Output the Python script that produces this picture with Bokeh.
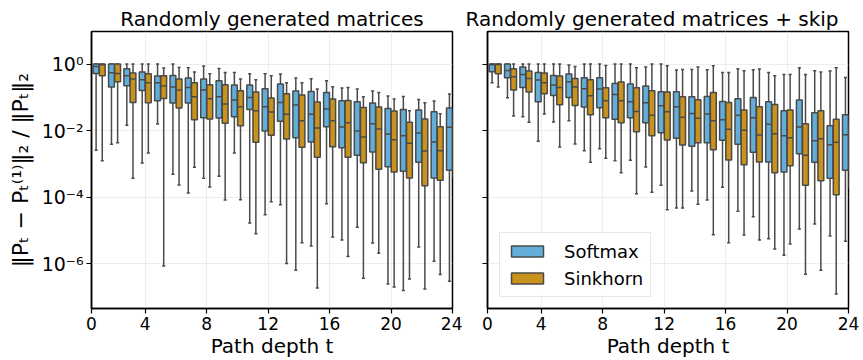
import numpy as np
from bokeh.plotting import figure
from bokeh.layouts import row
from bokeh.models import (Range1d, FixedTicker, CustomJSTickFormatter, Legend,
                          LegendItem)
from bokeh.embed import file_html
from bokeh.resources import INLINE

# ---------------- data ----------------
DEPTHS = list(range(1, 25))            # path depth t = 1..24
XTICK_POS = [-0.5, 3, 7, 11, 15, 19, 23]
XTICK_LABELS = ["0", "4", "8", "12", "16", "20", "24"]
YTICK_POS = [1.0, 1e-2, 1e-4, 1e-6]
YTICK_LABELS = ["10⁰", "10⁻²", "10⁻⁴", "10⁻⁶"]
SERIES = ["Softmax", "Sinkhorn"]
TITLES = ["Randomly generated matrices", "Randomly generated matrices + skip"]

# values stored as log10 exponents: upper whisker, Q3, median, Q1, lower whisker
# --- panel 1: randomly generated matrices ---
A_SOFT_HI = [0, 0, 0, 0, 0, 0, -0.11, -0.06, -0.13, -0.25, -0.29, -0.29, -0.30, -0.42, -0.44, -0.50, -0.72, -0.75, -0.81, -0.96, -0.97, -1.06, -1.11, -0.90]
A_SOFT_Q3 = [0, 0, -0.14, -0.24, -0.36, -0.34, -0.42, -0.45, -0.50, -0.63, -0.63, -0.74, -0.60, -0.81, -0.82, -0.85, -1.10, -1.13, -1.17, -1.33, -1.36, -1.38, -1.43, -1.32]
A_SOFT_MED = [-0.07, -0.26, -0.35, -0.47, -0.56, -0.69, -0.70, -0.78, -0.98, -1.08, -1.00, -1.28, -1.15, -1.23, -1.51, -1.35, -1.89, -2.01, -1.79, -2.10, -2.15, -2.07, -2.34, -1.90]
A_SOFT_Q1 = [-0.28, -0.69, -0.65, -0.79, -1.10, -1.17, -1.17, -1.61, -1.62, -1.58, -1.36, -2.01, -1.72, -2.21, -2.34, -1.88, -2.51, -2.74, -2.64, -3.08, -3.22, -2.95, -3.42, -3.19]
A_SOFT_LO = [-2.59, -2.41, -1.84, -2.97, -1.80, -3.31, -3.87, -3.43, -3.37, -2.67, -4.77, -4.52, -4.22, -6.19, -5.46, -4.19, -5.28, -4.90, -5.37, -6.60, -6.80, -5.49, -5.92, -6.52]

A_SINK_HI = [0, 0, 0, 0, -0.12, -0.10, -0.24, -0.29, -0.25, -0.45, -0.47, -0.35, -0.56, -0.56, -0.75, -0.68, -0.70, -0.98, -0.85, -1.05, -1.40, -1.16, -1.49, -1.23]
A_SINK_Q3 = [0, 0, -0.27, -0.29, -0.35, -0.45, -0.56, -0.62, -0.62, -0.80, -0.84, -1.02, -0.89, -0.93, -1.14, -1.05, -1.09, -1.30, -1.29, -1.41, -1.75, -1.65, -1.88, -1.63]
A_SINK_MED = [-0.02, -0.28, -0.45, -0.56, -0.66, -0.78, -0.98, -1.04, -1.20, -1.28, -1.40, -1.44, -1.51, -1.70, -1.92, -1.70, -1.76, -2.19, -1.95, -2.27, -2.38, -2.61, -2.60, -2.43]
A_SINK_Q1 = [-0.35, -0.53, -1.15, -1.16, -1.03, -1.32, -1.67, -1.65, -1.78, -1.85, -2.35, -2.14, -2.25, -2.50, -2.80, -2.48, -2.80, -2.96, -3.16, -3.24, -3.42, -3.65, -3.49, -3.43]
A_SINK_LO = [-2.90, -2.36, -3.43, -2.67, -6.06, -3.63, -3.10, -3.69, -4.08, -4.07, -5.09, -4.13, -5.99, -5.36, -6.72, -5.19, -5.78, -6.43, -5.68, -6.69, -6.45, -6.75, -6.32, -6.23]

# --- panel 2: randomly generated matrices + skip ---
B_SOFT_HI = [0, 0, 0, 0, 0, -0.03, 0, 0, 0, 0, -0.09, 0, -0.18, -0.16, -0.17, -0.25, -0.14, -0.17, -0.25, -0.31, -0.11, -0.20, -0.21, -0.40]
B_SOFT_Q3 = [0, 0, -0.09, -0.25, -0.34, -0.30, -0.41, -0.41, -0.58, -0.60, -0.66, -0.83, -0.83, -0.98, -0.97, -1.12, -1.04, -1.00, -1.13, -1.40, -1.08, -1.46, -1.85, -1.52]
B_SOFT_MED = [-0.02, -0.19, -0.31, -0.48, -0.63, -0.53, -0.74, -0.75, -0.91, -1.13, -1.16, -1.25, -1.28, -1.48, -1.50, -1.67, -1.54, -1.61, -1.81, -2.15, -1.89, -2.30, -2.42, -2.12]
B_SOFT_Q1 = [-0.23, -0.41, -0.70, -1.13, -0.94, -1.00, -1.29, -1.31, -1.66, -1.61, -1.76, -2.06, -2.23, -2.47, -2.36, -2.29, -2.41, -2.65, -2.94, -3.24, -2.69, -2.95, -3.43, -3.19]
B_SOFT_LO = [-0.56, -1.01, -1.58, -2.32, -1.74, -1.70, -2.60, -2.54, -2.90, -2.89, -3.09, -3.64, -4.32, -3.81, -4.08, -3.70, -4.42, -4.58, -5.24, -5.74, -4.95, -4.80, -5.16, -5.32]

B_SINK_HI = [0, 0, 0, 0, 0, -0.07, 0, -0.04, 0, -0.11, 0, -0.05, -0.16, -0.09, -0.05, -0.25, -0.20, -0.15, -0.35, -0.31, -0.31, -0.24, -0.11, -0.43]
B_SINK_Q3 = [0, -0.14, -0.21, -0.27, -0.36, -0.43, -0.47, -0.71, -0.54, -0.71, -0.80, -0.84, -0.98, -1.07, -0.85, -1.15, -1.38, -1.28, -1.21, -1.38, -1.79, -1.40, -1.66, -1.73]
B_SINK_MED = [-0.01, -0.38, -0.43, -0.56, -0.70, -0.69, -0.95, -1.10, -1.10, -1.42, -1.54, -1.43, -1.60, -1.63, -1.70, -1.96, -1.99, -2.13, -2.09, -2.21, -2.74, -2.24, -2.35, -2.53]
B_SINK_Q1 = [-0.29, -0.78, -0.84, -0.89, -1.22, -1.24, -1.52, -1.61, -1.76, -2.03, -2.15, -2.28, -2.43, -2.36, -2.57, -2.88, -3.02, -2.94, -3.26, -3.05, -3.64, -3.50, -3.92, -3.73]
B_SINK_LO = [-0.69, -1.56, -1.75, -1.50, -2.49, -2.40, -2.95, -2.83, -3.26, -3.89, -3.85, -4.37, -4.32, -4.21, -5.12, -5.36, -5.13, -5.28, -5.55, -5.40, -6.31, -6.19, -6.90, -6.33]

# ---------------- styling ----------------
FONT = "DejaVu Sans"
COLORS = {"Softmax": "#62aed9", "Sinkhorn": "#c9921c"}
EDGE = "#4a4a4a"
OFFSET = {"Softmax": -0.2, "Sinkhorn": 0.2}
BOX_W = 0.38
CAP_W = 0.2


def draw_boxes(p, stats, name):
    hi, q3, med, q1, lo = [10.0 ** np.asarray(s, dtype=float) for s in stats]
    x = np.asarray(DEPTHS, dtype=float) - 1 + OFFSET[name]
    p.segment(x0=x, y0=q3, x1=x, y1=hi, line_color=EDGE, line_width=1.5)
    p.segment(x0=x, y0=q1, x1=x, y1=lo, line_color=EDGE, line_width=1.5)
    p.segment(x0=x - CAP_W / 2, y0=hi, x1=x + CAP_W / 2, y1=hi, line_color=EDGE, line_width=1.5)
    p.segment(x0=x - CAP_W / 2, y0=lo, x1=x + CAP_W / 2, y1=lo, line_color=EDGE, line_width=1.5)
    r = p.quad(left=x - BOX_W / 2, right=x + BOX_W / 2, bottom=q1, top=q3,
               fill_color=COLORS[name], line_color=EDGE, line_width=1.5)
    p.segment(x0=x - BOX_W / 2, y0=med, x1=x + BOX_W / 2, y1=med, line_color=EDGE, line_width=1.5)
    return r


def make_panel(title, soft, sink, width, bl, br, show_ylabels, title_align, title_offset):
    p = figure(width=width, height=360, y_axis_type="log",
               x_range=Range1d(-0.5, 23), y_range=Range1d(4.6e-8, 9.5),
               output_backend="svg", toolbar_location=None,
               min_border_left=bl, min_border_right=br,
               min_border_top=31, min_border_bottom=52)
    p.title.text = title
    p.title.text_font = FONT
    p.title.text_font_size = "20px"
    p.title.text_font_style = "normal"
    p.title.align = title_align
    p.title.offset = title_offset
    p.title.text_color = "black"
    p.title.standoff = 2

    p.outline_line_color = "black"
    p.outline_line_width = 1.5
    p.background_fill_color = "white"
    p.border_fill_color = "white"

    p.xaxis.ticker = FixedTicker(ticks=XTICK_POS)
    p.xaxis.formatter = CustomJSTickFormatter(
        args=dict(pos=XTICK_POS, labels=XTICK_LABELS),
        code="const i = pos.findIndex(v => Math.abs(v - tick) < 1e-6); return i >= 0 ? labels[i] : '';")
    p.yaxis.ticker = FixedTicker(ticks=YTICK_POS, minor_ticks=[])
    if show_ylabels:
        p.yaxis.formatter = CustomJSTickFormatter(
            args=dict(pos=YTICK_POS, labels=YTICK_LABELS),
            code="const i = pos.findIndex(v => Math.abs(Math.log10(v) - Math.log10(tick)) < 1e-6); return i >= 0 ? labels[i] : '';")
    else:
        p.yaxis.formatter = CustomJSTickFormatter(code="return '';")

    for ax in (p.xaxis[0], p.yaxis[0]):
        ax.axis_line_color = "black"
        ax.axis_line_width = 1.5
        ax.major_tick_line_color = "black"
        ax.major_tick_line_width = 1.2
        ax.major_tick_out = 5
        ax.major_tick_in = 0
        ax.minor_tick_out = 0
        ax.minor_tick_in = 0
        ax.major_label_text_font = FONT
        ax.major_label_text_font_size = "17px"
        ax.major_label_text_color = "black"
        ax.axis_label_text_font = FONT
        ax.axis_label_text_font_size = "20px"
        ax.axis_label_text_font_style = "normal"
        ax.axis_label_text_color = "black"
        ax.major_label_standoff = 3

    p.yaxis.major_label_text_font_size = "19px"
    p.xaxis.axis_label = "Path depth t"
    p.xaxis.axis_label_standoff = 1
    if show_ylabels:
        p.yaxis.axis_label = "‖Pₜ − Pₜ⁽¹⁾‖₂ / ‖Pₜ‖₂"
        p.yaxis.axis_label_text_font_size = "22px"
        p.yaxis.axis_label_standoff = 6

    p.xgrid.ticker = FixedTicker(ticks=XTICK_POS)
    p.ygrid.ticker = FixedTicker(ticks=YTICK_POS, minor_ticks=[])
    for g in (p.xgrid[0], p.ygrid[0]):
        g.grid_line_color = "#e6e6e6"
        g.grid_line_alpha = 0.7
        g.grid_line_width = 1

    r_soft = draw_boxes(p, soft, "Softmax")
    r_sink = draw_boxes(p, sink, "Sinkhorn")
    return p, r_soft, r_sink


p1, _, _ = make_panel(TITLES[0],
                      [A_SOFT_HI, A_SOFT_Q3, A_SOFT_MED, A_SOFT_Q1, A_SOFT_LO],
                      [A_SINK_HI, A_SINK_Q3, A_SINK_MED, A_SINK_Q1, A_SINK_LO],
                      width=462, bl=91, br=10, show_ylabels=True,
                      title_align="center", title_offset=0)
p2, rs, rk = make_panel(TITLES[1],
                        [B_SOFT_HI, B_SOFT_Q3, B_SOFT_MED, B_SOFT_Q1, B_SOFT_LO],
                        [B_SINK_HI, B_SINK_Q3, B_SINK_MED, B_SINK_Q1, B_SINK_LO],
                        width=401, bl=25, br=15, show_ylabels=False,
                        title_align="left", title_offset=-22)

legend = Legend(items=[LegendItem(label=SERIES[0], renderers=[rs]),
                       LegendItem(label=SERIES[1], renderers=[rk])],
                location=(12, 11))
legend.label_text_font = FONT
legend.label_text_font_size = "18px"
legend.label_text_color = "black"
legend.glyph_width = 40
legend.glyph_height = 14
legend.label_standoff = 17
legend.label_height = 22
legend.spacing = 5
legend.padding = 7
legend.border_line_color = "#d0d0d0"
legend.border_line_width = 1
legend.background_fill_color = "white"
legend.background_fill_alpha = 0.9
p2.add_layout(legend)

layout = row(p1, p2, spacing=0)
open("out.html", "w").write(file_html(layout, INLINE))
